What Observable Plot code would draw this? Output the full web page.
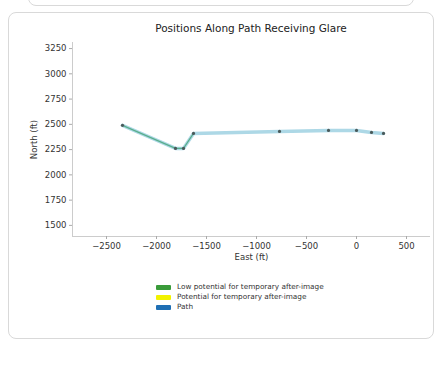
<!DOCTYPE html>
<html>
<head>
<meta charset="utf-8">
<script src="https://cdn.jsdelivr.net/npm/d3@7"></script>
<script src="https://cdn.jsdelivr.net/npm/@observablehq/plot@0.6"></script>
<style>
  body { margin: 0; background: #fff; font-family: "DejaVu Sans", sans-serif; }
  #page { position: relative; width: 437px; height: 374px; overflow: hidden; }
  .card { position: absolute; border: 1.5px solid #d9d9d9; border-radius: 8px; background: #fff; }
  #title { position: absolute; top: 22px; left: 72px; width: 358px; text-align: center; font-size: 10.5px; color: #222; }
  #chart { position: absolute; top: 38px; left: 0; }
  #legend { position: absolute; top: 282px; left: 156px; font-size: 7.3px; color: #333; line-height: 10px; }
  .row { display: flex; align-items: center; }
  .sw { width: 15px; height: 5px; margin-right: 6px; border-radius: 1px; }
</style>
</head>
<body>
<div id="page">
  <div class="card" style="left:28px; top:-20px; width:384px; height:24px;"></div>
  <div class="card" style="left:8px; top:12px; width:424px; height:325px;"></div>
  <div id="title">Positions Along Path Receiving Glare</div>
  <div id="chart"></div>
  <div id="legend"></div>
</div>
<script>
const pathEast  = [-2340, -1810, -1730, -1630, -770, -280, 0, 150, 270];
const pathNorth = [2490, 2262, 2262, 2410, 2430, 2440, 2440, 2420, 2410];
const glareIdx  = [0, 1, 2, 3];
const xTicks = [-2500, -2000, -1500, -1000, -500, 0, 500];
const yTicks = [1500, 1750, 2000, 2250, 2500, 2750, 3000, 3250];
const legendLabels = ["Low potential for temporary after-image", "Potential for temporary after-image", "Path"];
const legendColors = ["#3a9b3a", "#f2f200", "#1f6fb4"];

const pts = pathEast.map((e, i) => ({east: e, north: pathNorth[i]}));
const glare = glareIdx.map(i => pts[i]);
const fmtX = d => d < 0 ? "\u2212" + Math.abs(d) : String(d);
const fmtY = d => String(d);

const plot = Plot.plot({
  width: 437,
  height: 230,
  marginLeft: 72,
  marginRight: 7,
  marginTop: 4,
  marginBottom: 32,
  style: {fontFamily: "DejaVu Sans, sans-serif", fontSize: "8.5px", color: "#333", background: "transparent"},
  x: {domain: [-2840, 740]},
  y: {domain: [1390, 3310]},
  marks: [
    Plot.ruleY([1390], {stroke: "#ccc"}),
    Plot.ruleX([-2840], {stroke: "#ccc"}),
    Plot.line(pts, {x: "east", y: "north", stroke: "#add8e6", strokeWidth: 3.5}),
    Plot.line(glare, {x: "east", y: "north", stroke: "#5aae8c", strokeWidth: 1.2}),
    Plot.dot(pts, {x: "east", y: "north", r: 1.6, fill: "#4a5a5a"}),
    Plot.axisX({ticks: xTicks, tickFormat: fmtX, tickSize: 3, tickPadding: 3, stroke: "#aaa", label: "East (ft)", labelAnchor: "center", labelArrow: "none", labelOffset: 23}),
    Plot.axisY({ticks: yTicks, tickFormat: fmtY, tickSize: 3, tickPadding: 3, stroke: "#aaa", label: "North (ft)", labelAnchor: "center", labelArrow: "none", labelOffset: 42})
  ]
});
document.getElementById("chart").appendChild(plot);

const leg = document.getElementById("legend");
legendLabels.forEach((l, i) => {
  const r = document.createElement("div"); r.className = "row";
  const s = document.createElement("div"); s.className = "sw"; s.style.background = legendColors[i];
  const t = document.createElement("span"); t.textContent = l;
  r.appendChild(s); r.appendChild(t); leg.appendChild(r);
});
</script>
</body>
</html>
